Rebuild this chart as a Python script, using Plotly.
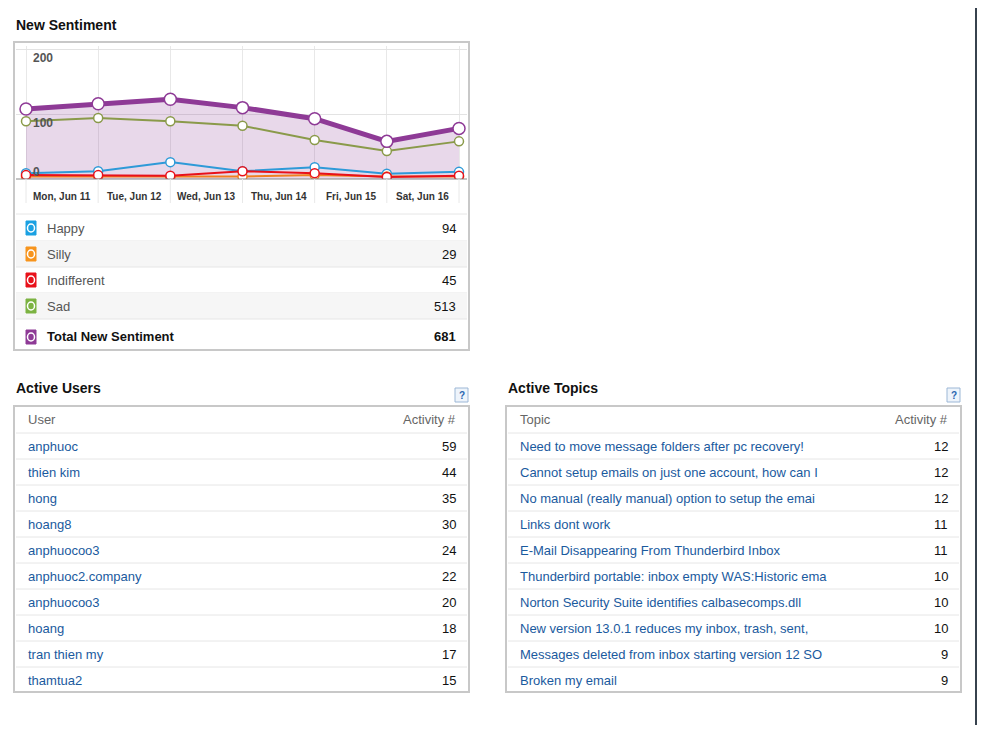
import plotly.graph_objects as go

# page has an 8px body margin, so the figure covers page px 8..977
OFF = 8
W, H = 969, 717

days = ["Mon, Jun 11", "Tue, Jun 12", "Wed, Jun 13", "Thu, Jun 14", "Fri, Jun 15", "Sat, Jun 16", "Sun, Jun 17"]
happy = [9, 12, 26, 12, 18, 8, 11]
silly = [4, 4, 3, 4, 6, 4, 4]
indifferent = [6, 6, 5, 12, 9, 3, 5]
sad = [89, 94, 89, 82, 60, 43, 58]
total = [h + s + i + d for h, s, i, d in zip(happy, silly, indifferent, sad)]

legend_names = ["Happy", "Silly", "Indifferent", "Sad", "Total New Sentiment"]
legend_values = [94, 29, 45, 513, 681]
legend_colors = ["#1ba1e2", "#f7941d", "#e8101a", "#7cb342", "#8e3a96"]

users = ["anphuoc", "thien kim", "hong", "hoang8", "anphuocoo3", "anphuoc2.company",
         "anphuocoo3", "hoang", "tran thien my", "thamtua2"]
user_activity = [59, 44, 35, 30, 24, 22, 20, 18, 17, 15]

topics = ["Need to move message folders after pc recovery!",
          "Cannot setup emails on just one account, how can I",
          "No manual (really manual) option to setup the emai",
          "Links dont work",
          "E-Mail Disappearing From Thunderbird Inbox",
          "Thunderbird portable: inbox empty WAS:Historic ema",
          "Norton Security Suite identifies calbasecomps.dll",
          "New version 13.0.1 reduces my inbox, trash, sent,",
          "Messages deleted from inbox starting version 12 SO",
          "Broken my email"]
topic_activity = [12, 12, 12, 11, 11, 10, 10, 10, 9, 9]

FONT = "Liberation Sans, Arial, sans-serif"
LINK = "#1a5a9e"


def px(x):
    return (x - OFF) / W


def py(y):
    return 1 - (y - OFF) / H


shapes, annots = [], []


def rect(x0, y0, x1, y1, fill=None, line="#c8c8c8", lw=1, kind="rect"):
    shapes.append(dict(type=kind, xref="paper", yref="paper", x0=px(x0), x1=px(x1),
                       y0=py(y1), y1=py(y0), fillcolor=fill or "rgba(0,0,0,0)",
                       line=dict(color=line, width=lw), layer="above"))


def hline(x0, x1, y, color="#e6e6e6"):
    shapes.append(dict(type="line", xref="paper", yref="paper", x0=px(x0), x1=px(x1),
                       y0=py(y), y1=py(y), line=dict(color=color, width=1)))


def text(x, y, s, size=13, color="#333", anchor="left", bold=False):
    if bold:
        s = "<b>" + s + "</b>"
    annots.append(dict(xref="paper", yref="paper", x=px(x), y=py(y), text=s, showarrow=False,
                       xanchor=anchor, yanchor="middle", font=dict(family=FONT, size=size, color=color)))


fig = go.Figure()

x_idx = list(range(len(days)))
fig.add_trace(go.Scatter(x=x_idx, y=total, fill="tozeroy", fillcolor="rgba(142,58,150,0.2)",
                         mode="lines", line=dict(width=0), hoverinfo="skip"))
for vals, col in [(sad, "#8a9a4a"), (happy, "#2e9ad8"), (silly, "#f08020"), (indifferent, "#e8101a")]:
    fig.add_trace(go.Scatter(x=x_idx, y=vals, mode="lines+markers", line=dict(color=col, width=2),
                             marker=dict(size=9, color="white", line=dict(color=col, width=1.5))))
fig.add_trace(go.Scatter(x=x_idx, y=total, mode="lines+markers", line=dict(color="#8e3a96", width=5),
                         marker=dict(size=12, color="white", line=dict(color="#8e3a96", width=1.5))))

step = (459 - 26) / 6
xr = [-(26 - 16) / step, 6 + (467 - 459) / step]
fig.update_layout(
    xaxis=dict(domain=[px(16), px(467)], range=xr, showticklabels=False, showgrid=True,
               gridcolor="#e8e8e8", tickvals=x_idx, zeroline=False, anchor="y"),
    yaxis=dict(domain=[py(179), py(46)], range=[0, 205], showticklabels=False,
               tickvals=[100, 200], gridcolor="#e3e3e3", zeroline=False),
)
hline(16, 467, 179, "#888")
for i in range(7):
    shapes.append(dict(type="line", xref="x", yref="paper", x0=i, x1=i, y0=py(203), y1=py(179),
                       line=dict(color="#e8e8e8", width=1)))
for v, ypx in [(200, 58), (100, 123), (0, 172)]:
    text(31, ypx, str(v), 12, "#555", bold=True)
for i, d in enumerate(days[:-1]):
    annots.append(dict(xref="x", yref="paper", x=i + 0.5, y=py(189), text="<b>" + d + "</b>",
                       showarrow=False, font=dict(family=FONT, size=10, color="#333")))

text(14, 25, "New Sentiment", 14, "#111", bold=True)
rect(14, 42, 469, 350, lw=2)
hline(16, 467, 214)
for k, (nm, val, col) in enumerate(zip(legend_names, legend_values, legend_colors)):
    top = 215 + 26 * k
    yc = 228 + 26 * k if k < 4 else 337
    if k in (1, 3):
        rect(16, top, 467, top + 26, fill="#f6f6f6", line="rgba(0,0,0,0)")
    if k < 4:
        hline(16, 467, top + 26)
    rect(26, yc - 7, 36, yc + 7, fill=col, line=col)
    rect(27.5, yc - 4, 34.5, yc + 4, fill=col, line="white", lw=1.5, kind="circle")
    bold = k == 4
    text(45, yc, nm, 13, "#111" if bold else "#555", bold=bold)
    text(458, yc, str(val), 13, "#111", anchor="right", bold=bold)


def table(x0, title, col1, names, vals):
    x1 = x0 + 455
    text(x0, 388, title, 14, "#111", bold=True)
    rect(x1 - 14, 388, x1 - 1, 402, fill="#eef4fb", line="#9cb7d6")
    text(x1 - 7.5, 395, "?", 10, "#2a66b0", anchor="center", bold=True)
    rect(x0, 406, x1, 692, lw=2)
    text(x0 + 12, 420, col1, 13, "#666")
    text(x1 - 11, 420, "Activity #", 13, "#666", anchor="right")
    for k, (n, v) in enumerate(zip(names, vals)):
        hline(x0 + 2, x1 - 2, 433 + 26 * k)
        yc = 446 + 26 * k
        text(x0 + 12, yc, n, 13, LINK)
        text(x1 - 11, yc, str(v), 13, "#111", anchor="right")


table(14, "Active Users", "User", users, user_activity)
table(506, "Active Topics", "Topic", topics, topic_activity)

# dark bar at right edge (only the part inside the figure)
shapes.append(dict(type="rect", xref="paper", yref="paper", x0=px(975), x1=1, y0=0, y1=1,
                   fillcolor="#37424e", line=dict(width=0)))

fig.update_layout(width=W, height=H, margin=dict(l=0, r=0, t=0, b=0), showlegend=False,
                  plot_bgcolor="white", paper_bgcolor="white", shapes=shapes, annotations=annots,
                  font=dict(family=FONT))
fig.write_html("out.html", config={"displayModeBar": False})
